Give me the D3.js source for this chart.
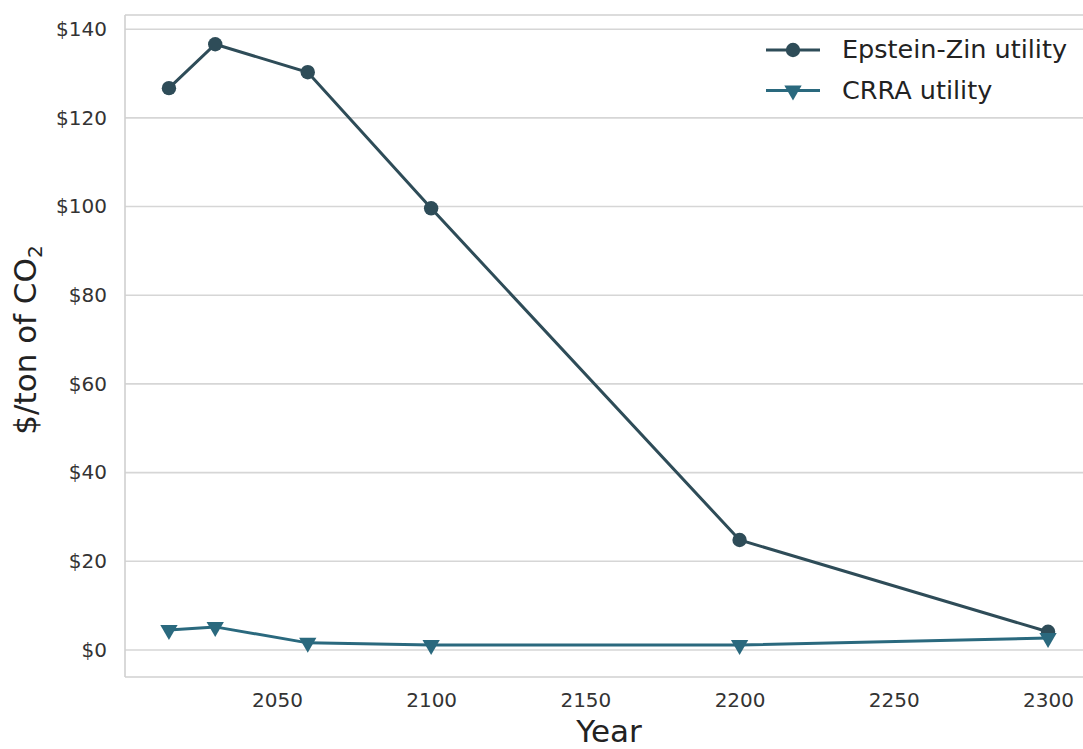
<!DOCTYPE html>
<html><head><meta charset="utf-8">
<script src="https://cdn.jsdelivr.net/npm/d3@7"></script>
<style>body{margin:0;background:#fff;} text{font-family:"DejaVu Sans",sans-serif;}</style>
</head><body>
<svg id="chart" width="1083" height="749"></svg>
<script>
const years = [2015, 2030, 2060, 2100, 2200, 2300];
const epsteinZin = [126.7, 136.6, 130.3, 99.6, 24.8, 4.1];
const crra = [4.5, 5.2, 1.6, 1.1, 1.1, 2.7];
const yTicks = [0, 20, 40, 60, 80, 100, 120, 140];
const xTicks = [2050, 2100, 2150, 2200, 2250, 2300];
const seriesNames = ["Epstein-Zin utility", "CRRA utility"];
const seriesColors = ["#2e4c58", "#2a697e"];

const svg = d3.select("#chart");
const L = 125, R = 1092, T = 15, B = 677;
const x = d3.scaleLinear().domain([2000.75, 2314.25]).range([L, R]);
const y = d3.scaleLinear().domain([-6.1, 143.2]).range([B, T]);

// grid
svg.append("g").selectAll("line").data(yTicks).join("line")
  .attr("x1", L).attr("x2", R).attr("y1", d => y(d)).attr("y2", d => y(d))
  .attr("stroke", "#d6d6d6").attr("stroke-width", 1.6);
// spines
svg.append("line").attr("x1", L).attr("x2", L).attr("y1", T).attr("y2", B).attr("stroke", "#d0d0d0").attr("stroke-width", 1.6);
svg.append("line").attr("x1", L).attr("x2", R).attr("y1", B).attr("y2", B).attr("stroke", "#d0d0d0").attr("stroke-width", 1.6);
svg.append("line").attr("x1", L).attr("x2", R).attr("y1", T).attr("y2", T).attr("stroke", "#d0d0d0").attr("stroke-width", 1.6);

// axes
const yAxis = svg.append("g").attr("transform", `translate(${L},0)`)
  .call(d3.axisLeft(y).tickValues(yTicks).tickSize(0).tickPadding(18).tickFormat(d => "$" + d));
yAxis.select(".domain").remove();
yAxis.attr("font-size", null).attr("font-family", null);
yAxis.selectAll("text").style("font-size", "20px").attr("fill", "#333");
const xAxis = svg.append("g").attr("transform", `translate(0,${B})`)
  .call(d3.axisBottom(x).tickValues(xTicks).tickSize(0).tickPadding(16).tickFormat(d3.format("d")));
xAxis.select(".domain").remove();
xAxis.attr("font-size", null).attr("font-family", null);
xAxis.selectAll("text").style("font-size", "20px").attr("fill", "#333");

// axis labels
svg.append("text").attr("x", 609).attr("y", 742).attr("text-anchor", "middle")
  .style("font-size", "31px").attr("fill", "#222").text("Year");
const yl = svg.append("text").attr("transform", "translate(36,340) rotate(-90)").attr("text-anchor", "middle")
  .style("font-size", "31px").attr("fill", "#222");
yl.append("tspan").text("$/ton of CO");
yl.append("tspan").style("font-size", "20px").attr("dy", 6).text("2");

// lines
const line = d3.line().x((d, i) => x(years[i])).y(d => y(d));
const allSeries = [epsteinZin, crra];
allSeries.forEach((s, k) => {
  svg.append("path").datum(s).attr("d", line).attr("fill", "none")
    .attr("stroke", seriesColors[k]).attr("stroke-width", 3);
});
function marker(g, k, cx, cy) {
  if (k === 0) {
    g.append("circle").attr("cx", cx).attr("cy", cy).attr("r", 7.2).attr("fill", seriesColors[k]);
  } else {
    g.append("path").attr("d", d3.symbol(d3.symbolTriangle, 130)())
      .attr("transform", `translate(${cx},${cy}) rotate(180)`).attr("fill", seriesColors[k]);
  }
}
allSeries.forEach((s, k) => {
  const g = svg.append("g");
  s.forEach((v, i) => marker(g, k, x(years[i]), y(v)));
});

// legend
seriesNames.forEach((n, k) => {
  const yy = 50 + k * 40.5;
  svg.append("line").attr("x1", 766).attr("x2", 820).attr("y1", yy).attr("y2", yy)
    .attr("stroke", seriesColors[k]).attr("stroke-width", 3);
  marker(svg, k, 793, yy);
  svg.append("text").attr("x", 842).attr("y", yy + 8).style("font-size", "25.5px").attr("fill", "#222").text(n);
});
</script>
</body></html>
